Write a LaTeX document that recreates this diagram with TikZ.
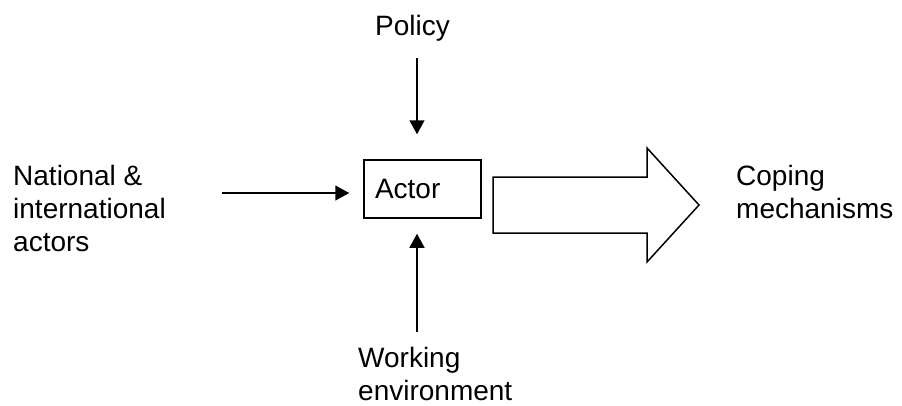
\documentclass[tikz,border=0pt]{standalone}
\usepackage{fontspec}
\setmainfont{Liberation Sans}
\usetikzlibrary{arrows.meta}
\begin{document}
\begin{tikzpicture}[x=1pt,y=-1pt,
  lbl/.style={font=\fontsize{28}{33}\selectfont, inner sep=0pt, align=left, anchor=base west},
  arr/.style={line width=1.5pt, -{Triangle[length=14pt,width=15pt]}},
  box/.style={draw, line width=1.5pt, font=\fontsize{28}{33}\selectfont, inner xsep=11pt, inner ysep=0pt, text width=95pt, align=left, minimum height=58pt}
]
\useasboundingbox (0,0) rectangle (902,405);
\node[box] (actor) at (422.5,189) {Actor};
\node[lbl] (policy) at (375,35) {Policy};
\node[lbl] (national) at (13,251) {National \&\\international\\actors};
\node[lbl] (coping) at (736,218) {Coping\\mechanisms};
\node[lbl] (working) at (358,400) {Working\\environment};
\coordinate (ptop) at (417,58);
\coordinate (lstart) at (222,193);
\coordinate (bstart) at (417,332);
\draw[arr, shorten >=25pt] (ptop) -- (ptop |- actor.north);
\draw[arr, shorten >=14pt] (lstart) -- (lstart -| actor.west);
\draw[arr, shorten >=15pt] (bstart) -- (bstart |- actor.south);
\draw[line width=1.5pt, line join=miter] (493,177) -- (647,177) -- (647,148) -- (699,205) -- (647,262) -- (647,233) -- (493,233) -- cycle;
\end{tikzpicture}
\end{document}
